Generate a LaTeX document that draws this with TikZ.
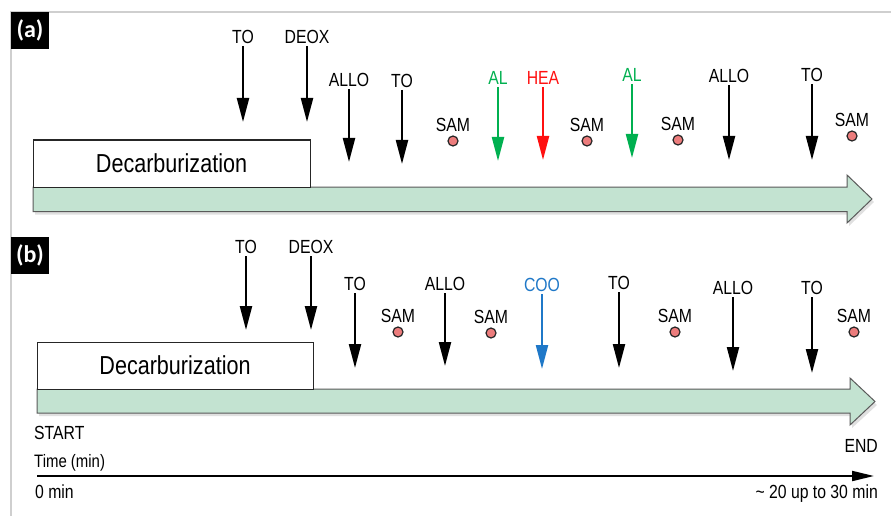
\documentclass[tikz,border=0pt]{standalone}
\usepackage{fontspec}
\setmainfont{Liberation Sans}
\newfontfamily\labfont[FakeStretch=0.83]{Liberation Sans}
\newfontfamily\boxfont[FakeStretch=0.83]{Liberation Sans}
\newfontfamily\tagfont{Carlito}
\usetikzlibrary{arrows.meta}

\definecolor{flowgreen}{HTML}{C3E3D1}
\definecolor{flowedge}{HTML}{5A5A5A}
\definecolor{algreen}{HTML}{00B050}
\definecolor{heared}{HTML}{FF1010}
\definecolor{cooblue}{HTML}{1F78C8}
\definecolor{samdot}{HTML}{EC7C7C}
\definecolor{framegray}{HTML}{CFCFCF}

\tikzset{
  txt/.style={font=\labfont\fontsize{19}{19}\selectfont, inner sep=0pt},
  evlabel/.style={txt, inner sep=2pt, anchor=south},
  event/.style={line width=2.2pt, -{Triangle[length=24pt,width=12pt]}},
  samdotstyle/.style={circle, fill=samdot, draw=black!85, line width=1.2pt,
    minimum size=10pt, inner sep=0pt},
  samlabel/.style={txt, anchor=south},
  stage/.style={draw=black!85, line width=1pt, fill=white, inner sep=0pt,
    font=\boxfont\fontsize{26}{26}\selectfont},
  flow/.style={fill=flowgreen, draw=flowedge, line width=1pt},
  flowshadow/.style={fill=black, opacity=0.12},
  tag/.style={fill=black, text=white, inner sep=0pt, minimum width=38pt,
    minimum height=37pt, font=\tagfont\bfseries\fontsize{24}{24}\selectfont},
}

\begin{document}
\begin{tikzpicture}[x=1pt, y=-1pt]
\useasboundingbox (0,0) rectangle (891,516);
\fill[white] (0,0) rectangle (891,516);

% outer frame
\draw[framegray, line width=1.5pt] (11,516) -- (11,12) -- (891,12);

% panel tags
\node[tag] (taga) at (30,30.5) {(a)};
\node[tag] (tagb) at (30,255) {(b)};

% ---------- panel (a) ----------
\fill[flowshadow] (35,190) -- (849,190) -- (849,178) -- (874,202) -- (849,226)
  -- (849,214.5) -- (35,214.5) -- cycle;
\draw[flow] (33,187) -- (847,187) -- (847,175) -- (872,199) -- (847,223)
  -- (847,211.5) -- (33,211.5) -- cycle;
\node[stage, minimum width=277pt, minimum height=47pt] (deca) at (171.5,163.5)
  {Decarburization};

\foreach \n/\x/\t/\b/\s/\c in {
  a1/243/46/122/TO/black, a2/307/46/122/DEOX/black,
  a3/349/89/162/ALLO/black, a4/402/90/164/TO/black,
  a5/498/87/161/AL/algreen, a6/543/87/160/HEA/heared,
  a7/632/84/158/AL/algreen, a8/729/85/160/ALLO/black,
  a9/812/84/160/TO/black}{
  \node[evlabel, text=\c] (\n) at (\x,\t) {\s};
  \coordinate (\n e) at (\x,\b);
  \draw[event, color=\c] (\n.south) -- (\n e);
}

\foreach \n/\x/\y in {sa1/453/141, sa2/587/141, sa3/678/140, sa4/852/136}{
  \node[samdotstyle] (\n) at (\x,\y) {};
  \node[samlabel] (\n l) at ([yshift=4pt]\n.north) {SAM};
}

% ---------- panel (b) ----------
\fill[flowshadow] (39,392) -- (852,392) -- (852,381) -- (877,405) -- (852,428)
  -- (852,416) -- (39,416) -- cycle;
\draw[flow] (37,389) -- (850,389) -- (850,378) -- (875,401.5) -- (850,425)
  -- (850,413) -- (37,413) -- cycle;
\node[stage, minimum width=276pt, minimum height=47pt] (decb) at (175,365.5)
  {Decarburization};

\foreach \n/\x/\t/\b/\s/\c in {
  b1/246/256/330/TO/black, b2/311/256/330/DEOX/black,
  b3/355/293/368/TO/black, b4/445/293/366/ALLO/black,
  b5/542/294/369/COO/cooblue, b6/619/292/368/TO/black,
  b7/733/297/371/ALLO/black, b8/812/297/373/TO/black}{
  \node[evlabel, text=\c] (\n) at (\x,\t) {\s};
  \coordinate (\n e) at (\x,\b);
  \draw[event, color=\c] (\n.south) -- (\n e);
}

\foreach \n/\x/\y in {sb1/398/332, sb2/491/333, sb3/675/332, sb4/854/332}{
  \node[samdotstyle] (\n) at (\x,\y) {};
  \node[samlabel] (\n l) at ([yshift=4pt]\n.north) {SAM};
}

% ---------- time axis ----------
\node[txt, anchor=base west] (start) at (34,439) {START};
\node[txt, anchor=base east] (end) at (878,452) {END};
\node[txt, anchor=base west, font=\labfont\fontsize{18}{18}\selectfont]
  (tlabel) at (34,467) {Time (min)};
\coordinate (t0) at (37,476);
\coordinate (t1) at (874,476);
\draw[line width=2pt, -{Triangle[length=22pt,width=10pt]}] (t0) -- (t1);
\node[txt, anchor=base west] (tmin) at (35,498) {0 min};
\node[txt, anchor=base east] (tmax) at (878,498) {\char`\~{} 20 up to 30 min};
\end{tikzpicture}
\end{document}
